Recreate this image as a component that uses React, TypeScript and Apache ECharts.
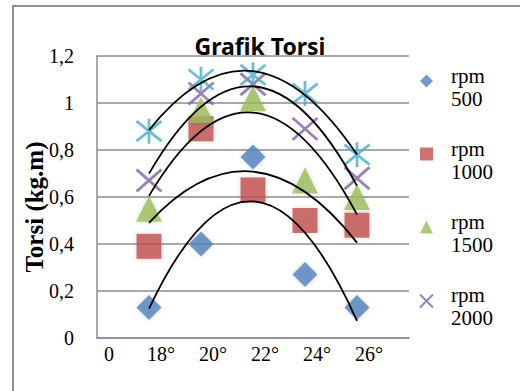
import React, { useEffect, useRef } from "react";
import * as echarts from "echarts";

// ---- data ----
const xPositions = [1, 2, 3, 4, 5];
const xTickLabels = ["0", "18°", "20°", "22°", "24°", "26°", ""];
const seriesNames = ["rpm 500", "rpm 1000", "rpm 1500", "rpm 2000", "rpm 2500"];
const legendNames = ["rpm 500", "rpm 1000", "rpm 1500", "rpm 2000"];
const rpm500 = [0.13, 0.4, 0.77, 0.27, 0.13];
const rpm1000 = [0.39, 0.89, 0.63, 0.5, 0.48];
const rpm1500 = [0.55, 0.97, 1.02, 0.67, 0.6];
const rpm2000 = [0.67, 1.04, 1.08, 0.89, 0.68];
const rpm2500 = [0.88, 1.1, 1.12, 1.04, 0.78];
const allValues = [rpm500, rpm1000, rpm1500, rpm2000, rpm2500];

const colors = ["#4F81BD", "#C0504D", "#9BBB59", "#8064A2", "#4BACC6"];
const SERIF = "'Liberation Serif', 'Times New Roman', serif";

// Least-squares quadratic fit (Excel "polynomial, order 2" trendline)
function quadFit(xs: number[], ys: number[]) {
  let s0 = 0, s1 = 0, s2 = 0, s3 = 0, s4 = 0, t0 = 0, t1 = 0, t2 = 0;
  xs.forEach((x, i) => {
    const y = ys[i];
    s0 += 1; s1 += x; s2 += x * x; s3 += x ** 3; s4 += x ** 4;
    t0 += y; t1 += x * y; t2 += x * x * y;
  });
  const M = [
    [s0, s1, s2, t0],
    [s1, s2, s3, t1],
    [s2, s3, s4, t2],
  ];
  for (let c = 0; c < 3; c++) {
    let p = c;
    for (let r = c + 1; r < 3; r++) if (Math.abs(M[r][c]) > Math.abs(M[p][c])) p = r;
    [M[c], M[p]] = [M[p], M[c]];
    for (let r = 0; r < 3; r++) {
      if (r === c) continue;
      const f = M[r][c] / M[c][c];
      for (let k = c; k < 4; k++) M[r][k] -= f * M[c][k];
    }
  }
  const a = M[0][3] / M[0][0], b = M[1][3] / M[1][1], cc = M[2][3] / M[2][2];
  return (x: number) => a + b * x + cc * x * x;
}

export default function App() {
  const ref = useRef<HTMLDivElement>(null);
  useEffect(() => {
    if (!ref.current) return;
    const chart = echarts.init(ref.current, undefined, { renderer: "svg" });
    const x0 = xPositions[0];
    const x2 = xPositions[xPositions.length - 1];
    const xm = (x0 + x2) / 2;
    const fits = allValues.map((ys) => quadFit(xPositions, ys));

    const glow = { shadowBlur: 5, shadowColor: "rgba(0,0,0,0.18)" };
    const markerDefs: any[] = [
      { symbol: "diamond", symbolSize: 25, itemStyle: { color: colors[0], ...glow } },
      { symbol: "rect", symbolSize: 25, itemStyle: { color: colors[1], ...glow } },
      { symbol: "triangle", symbolSize: 26, itemStyle: { color: colors[2], ...glow } },
      {
        symbol: "path://M0,0L10,10M10,0L0,10",
        symbolSize: [25, 22],
        itemStyle: { color: colors[3], borderColor: colors[3], borderWidth: 2.8 },
      },
      {
        symbol: "path://M0,1L10,9M10,1L0,9M5,0L5,10",
        symbolSize: 25,
        itemStyle: { color: colors[4], borderColor: colors[4], borderWidth: 2.8 },
      },
    ];

    const scatterSeries = allValues.map((vals, i) => ({
      type: "scatter",
      name: seriesNames[i],
      data: vals.map((v, j) => [xPositions[j], v]),
      ...markerDefs[i],
      z: 2,
    }));

    const trendSeries = {
      type: "custom",
      name: "trend",
      z: 5,
      silent: true,
      data: fits.map((f) => [xm, f(xm)]),
      renderItem: (params: any, api: any) => {
        const f = fits[params.dataIndex];
        const p0 = api.coord([x0, f(x0)]);
        const p2 = api.coord([x2, f(x2)]);
        const cp = api.coord([xm, 2 * f(xm) - (f(x0) + f(x2)) / 2]);
        return {
          type: "bezierCurve",
          shape: { x1: p0[0], y1: p0[1], x2: p2[0], y2: p2[1], cpx1: cp[0], cpy1: cp[1] },
          style: { stroke: "#000", lineWidth: 1.8, fill: "none" },
        };
      },
    };

    // legend layout: icons from ECharts legend, two-line labels as graphic texts
    const legendLeft = 414;
    const legendFirstCenter = 76;
    const legendStep = 73;
    const iconSize = 13;
    const legendLabels = legendNames.map((name, i) => ({
      type: "text",
      silent: true,
      x: 451,
      y: legendFirstCenter + i * legendStep - 11.5,
      style: {
        text: name.replace(" ", "\n"),
        fontFamily: SERIF,
        fontSize: 21,
        fontWeight: "normal",
        lineHeight: 23,
        fill: "#000",
        verticalAlign: "top",
        align: "left",
      },
    }));

    chart.setOption({
      animation: false,
      backgroundColor: "#fff",
      textStyle: { fontFamily: SERIF },
      title: {
        text: "Grafik Torsi",
        left: "center",
        top: 29,
        textStyle: { fontFamily: "Noto Sans", fontWeight: "bold", fontSize: 23, color: "#000" },
      },
      graphic: [
        {
          type: "rect",
          silent: true,
          shape: { x: 13, y: 6, width: 620, height: 500 },
          style: { fill: "none", stroke: "#8f8f8f", lineWidth: 2 },
        },
        ...legendLabels,
      ],
      legend: {
        data: legendNames,
        orient: "vertical",
        left: legendLeft,
        top: legendFirstCenter - iconSize / 2,
        itemWidth: iconSize,
        itemHeight: iconSize,
        itemGap: legendStep - iconSize,
        selectedMode: false,
        formatter: () => "",
      },
      grid: { left: 97, right: 111, top: 56, bottom: 53 },
      xAxis: {
        type: "value",
        min: 0,
        max: 6,
        interval: 1,
        axisLine: { show: true, lineStyle: { color: "#8c8c8c", width: 1.5 } },
        axisTick: { show: false },
        splitLine: { show: false },
        axisLabel: {
          fontFamily: SERIF,
          fontSize: 20,
          color: "#000",
          margin: 6,
          padding: [0, 0, 0, 24],
          formatter: (v: number) => xTickLabels[Math.round(v)] ?? "",
        },
      },
      yAxis: {
        type: "value",
        min: 0,
        max: 1.2,
        interval: 0.2,
        name: "Torsi (kg.m)",
        nameLocation: "middle",
        nameRotate: 90,
        nameGap: 50,
        nameMoveOverlap: false,
        nameTextStyle: { fontFamily: SERIF, fontWeight: "bold", fontSize: 25, color: "#000", padding: [0, 20, 0, 0] },
        axisLine: { show: true, lineStyle: { color: "#8c8c8c", width: 1.5 } },
        axisTick: { show: false },
        splitLine: { show: true, lineStyle: { color: "#8c8c8c", width: 1.5 } },
        axisLabel: {
          fontFamily: SERIF,
          fontSize: 20,
          color: "#000",
          margin: 23,
          formatter: (v: number) => String(+v.toFixed(1)).replace(".", ","),
        },
      },
      series: [...scatterSeries, trendSeries],
    });
    return () => chart.dispose();
  }, []);
  return <div ref={ref} style={{ position: "fixed", left: 0, top: 0, width: 520, height: 391 }} />;
}
